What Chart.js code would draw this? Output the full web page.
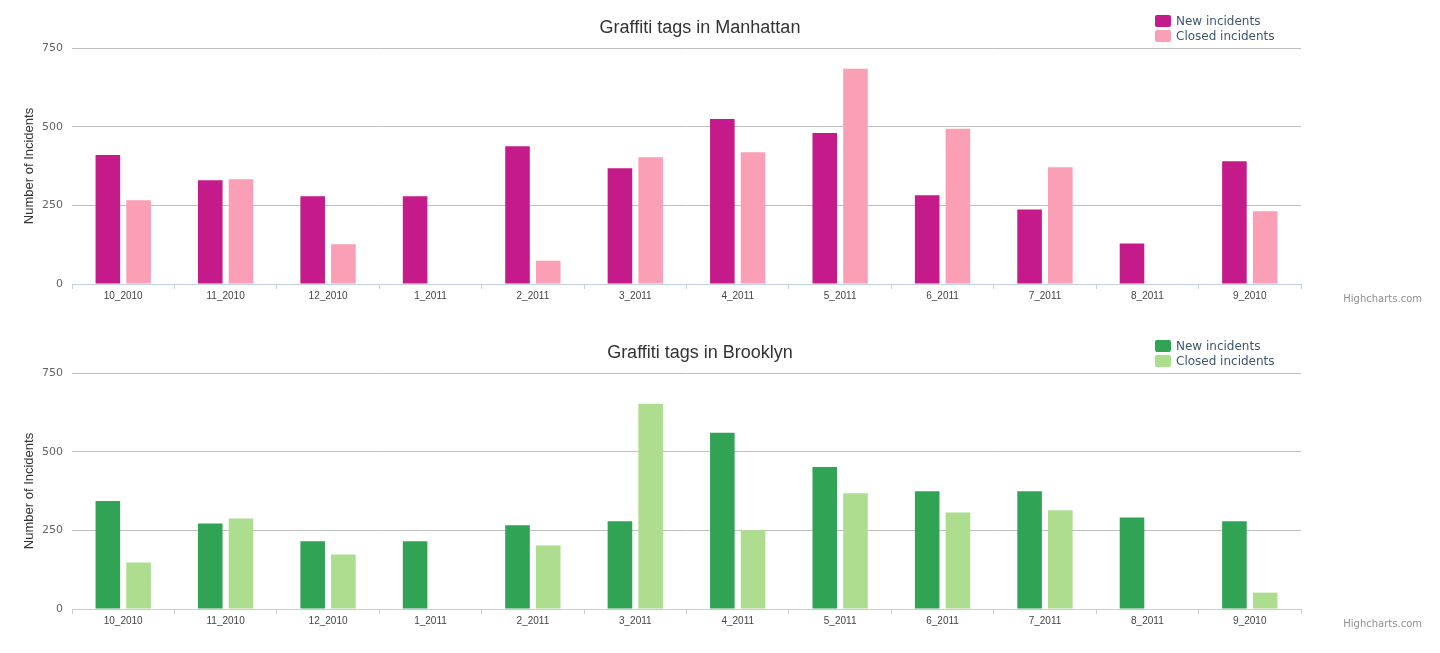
<!DOCTYPE html>
<html>
<head>
<meta charset="utf-8">
<script src="https://cdn.jsdelivr.net/npm/chart.js@4/dist/chart.umd.min.js"></script>
<style>
  html, body { margin: 0; padding: 0; background: #fff; }
  .box { position: absolute; left: 0; width: 1440px; height: 326px; }
</style>
</head>
<body>
<div class="box" style="top:0"><canvas id="manhattanChart" width="1440" height="326"></canvas></div>
<div class="box" style="top:325px"><canvas id="brooklynChart" width="1440" height="326"></canvas></div>
<script>
// categories as they appear on the x axis
const months = ["10_2010", "11_2010", "12_2010", "1_2011", "2_2011", "3_2011",
                "4_2011", "5_2011", "6_2011", "7_2011", "8_2011", "9_2010"];

// Manhattan
const manhattanNew    = [410, 330, 279, 279, 438, 368, 524, 480, 282, 237, 129, 390];
const manhattanClosed = [266, 333, 126, 0, 74, 403, 419, 684, 493, 371, 0, 231];

// Brooklyn
const brooklynNew    = [343, 272, 215, 215, 266, 279, 560, 451, 374, 374, 291, 279];
const brooklynClosed = [148, 288, 173, 0, 202, 652, 250, 368, 307, 314, 0, 52];

const yTicks = [0, 250, 500, 750];
const seriesNames = ["New incidents", "Closed incidents"];

// title, floating legend and credit drawn on top of the canvas
const decorPlugin = {
    id: "decor",
    afterDraw(chart, args, opts) {
        const ctx = chart.ctx;
        ctx.save();
        // title
        ctx.fillStyle = "#333";
        ctx.font = "18px 'Liberation Sans', Arial, sans-serif";
        ctx.textAlign = "center";
        ctx.textBaseline = "middle";
        ctx.fillText(opts.title, 700, 28);

        // legend
        ctx.font = "12px 'DejaVu Sans', sans-serif";
        ctx.textAlign = "left";
        chart.data.datasets.forEach((ds, i) => {
            const y = 15 + i * 15;
            ctx.fillStyle = ds.backgroundColor;
            ctx.beginPath();
            ctx.roundRect(1155, y, 16, 12, 2);
            ctx.fill();
            ctx.fillStyle = "#3E576F";
            ctx.fillText(ds.label, 1176, y + 6.5);
        });

        // credit
        ctx.fillStyle = "#909090";
        ctx.font = "10px 'DejaVu Sans', sans-serif";
        ctx.textAlign = "right";
        ctx.fillText("Highcharts.com", 1422, 299);
        ctx.restore();
    }
};

function makeChart(id, title, newData, closedData, colors) {
    const ctx = document.getElementById(id).getContext("2d");
    return new Chart(ctx, {
        type: "bar",
        data: {
            labels: months,
            datasets: [{
                label: seriesNames[0],
                data: newData,
                backgroundColor: colors[0]
            }, {
                label: seriesNames[1],
                data: closedData,
                backgroundColor: colors[1]
            }]
        },
        options: {
            responsive: false,
            animation: false,
            categoryPercentage: 0.6,
            barPercentage: 0.8,
            layout: { padding: { top: 48, right: 139, left: 0, bottom: 0 } },
            plugins: {
                legend: { display: false },
                title: { display: false },
                tooltip: { enabled: false },
                decor: { title: title }
            },
            scales: {
                x: {
                    afterFit(scale) { scale.height = 42; },
                    grid: {
                        display: true,
                        drawOnChartArea: false,
                        drawTicks: true,
                        tickLength: 5,
                        color: "#C0D0E0"
                    },
                    border: { display: true, color: "#C0D0E0" },
                    ticks: {
                        color: "#444",
                        padding: 1,
                        font: { family: "'Liberation Sans', Arial, sans-serif", size: 10 }
                    }
                },
                y: {
                    min: yTicks[0],
                    max: yTicks[yTicks.length - 1],
                    afterFit(scale) { scale.width = 72; },
                    afterBuildTicks(scale) { scale.ticks = yTicks.map(v => ({ value: v })); },
                    grid: {
                        color: (c) => c.tick && c.tick.value === 0 ? "rgba(0,0,0,0)" : "#C0C0C0",
                        drawTicks: false
                    },
                    border: { display: false },
                    ticks: {
                        color: "#666",
                        padding: 9,
                        font: { family: "'DejaVu Sans', sans-serif", size: 11 }
                    },
                    title: {
                        display: true,
                        text: "Number of Incidents",
                        color: "#333",
                        padding: { top: 22, bottom: 0 },
                        font: { family: "'Liberation Sans', Arial, sans-serif", size: 13 }
                    }
                }
            }
        },
        plugins: [decorPlugin]
    });
}

makeChart("manhattanChart", "Graffiti tags in Manhattan", manhattanNew, manhattanClosed, ["#C51B8A", "#FA9FB5"]);
makeChart("brooklynChart", "Graffiti tags in Brooklyn", brooklynNew, brooklynClosed, ["#31A354", "#ADDD8E"]);
</script>
</body>
</html>
